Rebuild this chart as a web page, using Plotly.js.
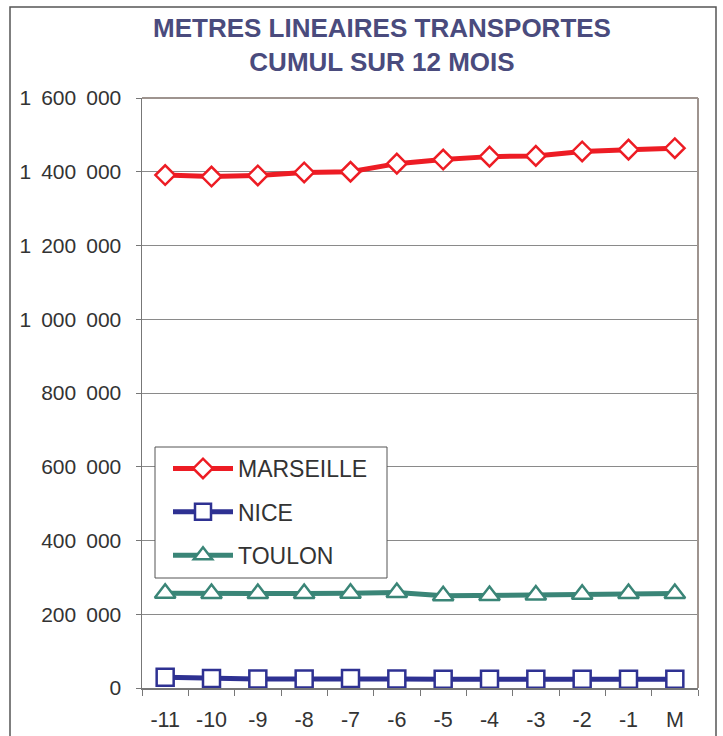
<!DOCTYPE html>
<html>
<head>
<meta charset="utf-8">
<script src="https://cdn.plot.ly/plotly-3.0.1.min.js"></script>
<style>html,body{margin:0;padding:0;background:#fff;}#chart{width:723px;height:736px;}</style>
</head>
<body>
<div id="chart"></div>
<script>
// ---- data ----
var months = ['-11', '-10', '-9', '-8', '-7', '-6', '-5', '-4', '-3', '-2', '-1', 'M'];
var marseille = [1391000, 1387000, 1390000, 1398000, 1400000, 1422000, 1433000, 1441000, 1443000, 1455000, 1460000, 1464000];
var nice = [29000, 26000, 24500, 24500, 26000, 24500, 23500, 23500, 23500, 23500, 23500, 23500];
var toulon = [257000, 256000, 256000, 256000, 257000, 259000, 250000, 251000, 252000, 254000, 256000, 256000];
var yTickVals = [0, 200000, 400000, 600000, 800000, 1000000, 1200000, 1400000, 1600000];
var yTickText = ['0', '200\u00a0\u2009000', '400\u00a0\u2009000', '600\u00a0\u2009000', '800\u00a0\u2009000',
  '1\u00a0\u2009000\u00a0\u2009000', '1\u00a0\u2009200\u00a0\u2009000', '1\u00a0\u2009400\u00a0\u2009000', '1\u00a0\u2009600\u00a0\u2009000'];

// ---- layout helpers (pixel -> paper) ----
var L = 142, R = 698, T = 98, B = 688;
function px(x) { return (x - L) / (R - L); }
function py(y) { return (B - y) / (B - T); }
var FONT = 'Liberation Sans, Arial, sans-serif';

var traces = [
  {x: months, y: marseille, name: 'MARSEILLE', type: 'scatter', mode: 'lines+markers', legendgroup: 'a',
   line: {color: '#ED1C24', width: 5},
   marker: {symbol: 'diamond', size: 15, color: '#ffffff', line: {color: '#ED1C24', width: 2.5}}},
  {x: months, y: nice, name: 'NICE', type: 'scatter', mode: 'lines+markers', legendgroup: 'b',
   line: {color: '#2E3192', width: 5},
   marker: {symbol: 'square', size: 17, color: '#ffffff', line: {color: '#2E3192', width: 2.5}}},
  {x: months, y: toulon, name: 'TOULON', type: 'scatter', mode: 'lines+markers', legendgroup: 'c',
   line: {color: '#3A8577', width: 5},
   marker: {symbol: 'triangle-up', size: 18, color: '#ffffff', line: {color: '#3A8577', width: 2.5}}}
];

var layout = {
  width: 723, height: 736,
  margin: {l: L, r: 723 - R, t: T, b: 736 - B, pad: 0},
  paper_bgcolor: '#ffffff', plot_bgcolor: '#ffffff',
  font: {family: FONT, size: 21, color: '#333333'},
  title: {
    text: 'METRES LINEAIRES TRANSPORTES<br>CUMUL SUR 12 MOIS',
    xref: 'container', x: 382 / 723, xanchor: 'center',
    yref: 'container', y: 1 - 37 / 736, yanchor: 'top',
    font: {family: FONT, size: 26, color: '#4A4B7D', weight: 'bold'}
  },
  showlegend: true,
  legend: {
    x: px(168), y: py(447), xanchor: 'left', yanchor: 'top',
    bgcolor: 'rgba(0,0,0,0)', borderwidth: 0,
    font: {family: FONT, size: 23, color: '#333333'},
    tracegroupgap: 10.5, itemwidth: 60
  },
  xaxis: {
    type: 'category', range: [-0.5, 11.5],
    showgrid: false, zeroline: false,
    showline: true, linecolor: '#777777', linewidth: 1.5,
    ticks: 'outside', tickson: 'boundaries', ticklen: 6, tickcolor: '#777777', tickwidth: 1,
    tickfont: {family: FONT, size: 21.5, color: '#333333'},
    ticklabelstandoff: 12, fixedrange: true
  },
  yaxis: {
    range: [0, 1600000],
    tickvals: yTickVals, ticktext: yTickText,
    showgrid: true, gridcolor: '#8a8a8a', gridwidth: 1,
    zeroline: false,
    showline: true, linecolor: '#777777', linewidth: 1.5,
    ticks: 'outside', ticklen: 5, tickcolor: '#777777', tickwidth: 1,
    tickfont: {family: FONT, size: 21, color: '#333333'},
    ticklabelstandoff: 10, fixedrange: true
  },
  shapes: [
    // outer frame
    {type: 'rect', xref: 'paper', yref: 'paper', x0: px(10), x1: px(716), y0: py(760), y1: py(7),
     line: {color: '#555555', width: 1.5}, fillcolor: 'rgba(0,0,0,0)', layer: 'below'},
    // top and right border of plot area
    {type: 'line', xref: 'paper', yref: 'paper', x0: 0, x1: 1, y0: 1, y1: 1,
     line: {color: '#9E948F', width: 2}, layer: 'above'},
    {type: 'line', xref: 'paper', yref: 'paper', x0: 1, x1: 1, y0: 0, y1: 1,
     line: {color: '#9E948F', width: 2}, layer: 'above'},
    // legend box
    {type: 'rect', xref: 'paper', yref: 'paper', x0: px(155), x1: px(387), y0: py(578), y1: py(447),
     line: {color: '#555555', width: 1}, fillcolor: '#ffffff', layer: 'above'}
  ]
};

Plotly.newPlot('chart', traces, layout, {displayModeBar: false, staticPlot: true});
</script>
</body>
</html>
